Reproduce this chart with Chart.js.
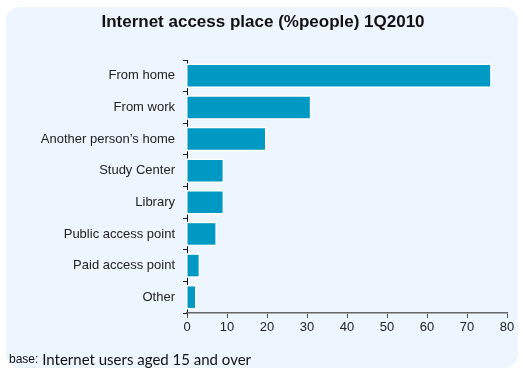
<!DOCTYPE html>
<html>
<head>
<meta charset="utf-8">
<script src="https://cdn.jsdelivr.net/npm/chart.js@4/dist/chart.umd.min.js"></script>
<style>
  html, body { margin: 0; padding: 0; background: #ffffff; }
  #wrap { position: relative; width: 523px; height: 370px; overflow: hidden; }
  #panel {
    position: absolute; left: 6px; top: 7px; width: 512px; height: 361px;
    background: #edf5fe; border-radius: 14px;
  }
  #c { position: absolute; left: 0; top: 0; }
  #note {
    position: absolute; left: 9px; top: 350px; white-space: nowrap;
    font-family: Lato, "Open Sans", sans-serif; font-size: 15px; color: #111;
  }
  #note .b { font-family: "Liberation Sans", Arial, sans-serif; font-size: 12px; position: relative; top: -2px; }
</style>
</head>
<body>
<div id="wrap">
  <div id="panel"></div>
  <canvas id="c" width="523" height="370"></canvas>
  <div id="note"><span class="b">base:</span> Internet users aged 15 and over</div>
</div>
<script>
// Places where people access the Internet, share of people (%)
const categories = [
  "From home",
  "From work",
  "Another person\u2019s home",
  "Study Center",
  "Library",
  "Public access point",
  "Paid access point",
  "Other"
];
const shares = [75.8, 30.7, 19.5, 8.9, 8.9, 7.1, 2.9, 2.0];
const xTicks = [0, 10, 20, 30, 40, 50, 60, 70, 80];
const titleText = "Internet access place (%people) 1Q2010";

const labelFont = { family: "'Liberation Sans', Arial, sans-serif", size: 13 };

// White halo drawn around each bar before the bars are filled
const barHalo = {
  id: "barHalo",
  beforeDatasetsDraw(chart) {
    const ctx = chart.ctx;
    ctx.save();
    ctx.strokeStyle = "#ffffff";
    ctx.lineWidth = 3;
    chart.getDatasetMeta(0).data.forEach((bar) => {
      const p = bar.getProps(["x", "y", "base", "height"], true);
      const left = Math.min(p.base, p.x);
      const w = Math.abs(p.x - p.base);
      ctx.strokeRect(left, p.y - p.height / 2, w, p.height);
    });
    ctx.restore();
  }
};

new Chart(document.getElementById("c"), {
  type: "bar",
  data: {
    labels: categories,
    datasets: [{
      data: shares,
      backgroundColor: "#0099c4",
      borderWidth: 0,
      barPercentage: 0.68,
      categoryPercentage: 1.0
    }]
  },
  options: {
    indexAxis: "y",
    responsive: false,
    animation: false,
    devicePixelRatio: 1,
    layout: { padding: { left: 19, right: 16, top: 8, bottom: 34 } },
    plugins: {
      legend: { display: false },
      tooltip: { enabled: false },
      title: {
        display: true,
        text: titleText,
        color: "#111111",
        font: { family: "'Liberation Sans', Arial, sans-serif", size: 17, weight: "bold" },
        padding: { top: 4, bottom: 27.6 }
      }
    },
    scales: {
      y: {
        grid: { display: true, drawOnChartArea: false, offset: true, tickLength: 4, color: "#222222", lineWidth: 1 },
        border: { display: true, color: "#111111", width: 1 },
        ticks: { color: "#222222", font: labelFont, padding: 8 },
        afterFit: (s) => { s.width = 168; }
      },
      x: {
        min: 0,
        max: 80,
        afterBuildTicks: (s) => { s.ticks = xTicks.map(v => ({ value: v })); },
        grid: { display: true, drawOnChartArea: false, tickLength: 5, color: "#555555", lineWidth: 1 },
        border: { display: true, color: "#666666", width: 1.5 },
        ticks: { color: "#222222", font: { family: "'Liberation Sans', Arial, sans-serif", size: 13 }, padding: 2, maxRotation: 0 },
        afterFit: (s) => { s.height = 23; }
      }
    }
  },
  plugins: [barHalo]
});
</script>
</body>
</html>
